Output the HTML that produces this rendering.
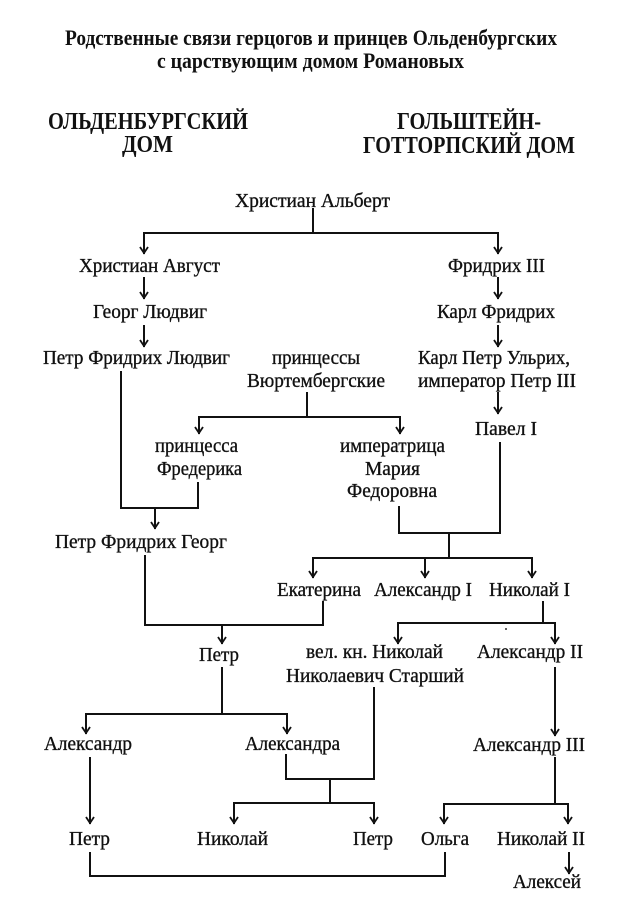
<!DOCTYPE html>
<html>
<head>
<meta charset="utf-8">
<style>
  html, body { margin: 0; padding: 0; background: #fff; }
  svg { display: block; }
  text { font-family: "Liberation Serif", "DejaVu Serif", serif; fill: #111; }
  .t { font-size: 20px; stroke: #111; stroke-width: 0.35px; }
  .b { font-weight: bold; }
</style>
</head>
<body>
<svg width="627" height="920" viewBox="0 0 627 920" xmlns="http://www.w3.org/2000/svg">
  <rect width="627" height="920" fill="#fff"/>

  <!-- Titles -->
  <text class="b" x="65" y="45" font-size="22" textLength="492" lengthAdjust="spacingAndGlyphs">Родственные связи герцогов и принцев Ольденбургских</text>
  <text class="b" x="157" y="68" font-size="22" textLength="307" lengthAdjust="spacingAndGlyphs">с царствующим домом Романовых</text>

  <text class="b" x="48" y="129" font-size="24" textLength="200" lengthAdjust="spacingAndGlyphs">ОЛЬДЕНБУРГСКИЙ</text>
  <text class="b" x="122" y="152" font-size="24" textLength="51" lengthAdjust="spacingAndGlyphs">ДОМ</text>
  <text class="b" x="397" y="129" font-size="24" textLength="144" lengthAdjust="spacingAndGlyphs">ГОЛЬШТЕЙН-</text>
  <text class="b" x="363" y="153" font-size="24" textLength="212" lengthAdjust="spacingAndGlyphs">ГОТТОРПСКИЙ ДОМ</text>

  <!-- Names -->
  <text class="t" x="235" y="207" textLength="155" lengthAdjust="spacingAndGlyphs">Христиан Альберт</text>
  <text class="t" x="79" y="272" textLength="141" lengthAdjust="spacingAndGlyphs">Христиан Август</text>
  <text class="t" x="93" y="318" textLength="114" lengthAdjust="spacingAndGlyphs">Георг Людвиг</text>
  <text class="t" x="43" y="364" textLength="187" lengthAdjust="spacingAndGlyphs">Петр Фридрих Людвиг</text>
  <text class="t" x="272" y="364" textLength="88" lengthAdjust="spacingAndGlyphs">принцессы</text>
  <text class="t" x="247" y="387" textLength="138" lengthAdjust="spacingAndGlyphs">Вюртембергские</text>
  <text class="t" x="448" y="272" textLength="97" lengthAdjust="spacingAndGlyphs">Фридрих III</text>
  <text class="t" x="437" y="318" textLength="118" lengthAdjust="spacingAndGlyphs">Карл Фридрих</text>
  <text class="t" x="418" y="364" textLength="152" lengthAdjust="spacingAndGlyphs">Карл Петр Ульрих,</text>
  <text class="t" x="418" y="387" textLength="158" lengthAdjust="spacingAndGlyphs">император Петр III</text>
  <text class="t" x="475" y="435" textLength="62" lengthAdjust="spacingAndGlyphs">Павел I</text>
  <text class="t" x="155" y="452" textLength="83" lengthAdjust="spacingAndGlyphs">принцесса</text>
  <text class="t" x="157" y="475" textLength="85" lengthAdjust="spacingAndGlyphs">Фредерика</text>
  <text class="t" x="340" y="452" textLength="105" lengthAdjust="spacingAndGlyphs">императрица</text>
  <text class="t" x="365" y="475" textLength="55" lengthAdjust="spacingAndGlyphs">Мария</text>
  <text class="t" x="347" y="497" textLength="90" lengthAdjust="spacingAndGlyphs">Федоровна</text>
  <text class="t" x="55" y="548" textLength="172" lengthAdjust="spacingAndGlyphs">Петр Фридрих Георг</text>
  <text class="t" x="277" y="596" textLength="84" lengthAdjust="spacingAndGlyphs">Екатерина</text>
  <text class="t" x="374" y="596" textLength="98" lengthAdjust="spacingAndGlyphs">Александр I</text>
  <text class="t" x="489" y="596" textLength="81" lengthAdjust="spacingAndGlyphs">Николай I</text>
  <text class="t" x="199" y="661" textLength="40" lengthAdjust="spacingAndGlyphs">Петр</text>
  <text class="t" x="306" y="658" textLength="137" lengthAdjust="spacingAndGlyphs">вел. кн. Николай</text>
  <text class="t" x="286" y="682" textLength="178" lengthAdjust="spacingAndGlyphs">Николаевич Старший</text>
  <text class="t" x="477" y="658" textLength="106" lengthAdjust="spacingAndGlyphs">Александр II</text>
  <text class="t" x="44" y="750" textLength="88" lengthAdjust="spacingAndGlyphs">Александр</text>
  <text class="t" x="245" y="750" textLength="95" lengthAdjust="spacingAndGlyphs">Александра</text>
  <text class="t" x="473" y="751" textLength="112" lengthAdjust="spacingAndGlyphs">Александр III</text>
  <text class="t" x="69" y="845" textLength="41" lengthAdjust="spacingAndGlyphs">Петр</text>
  <text class="t" x="197" y="845" textLength="71" lengthAdjust="spacingAndGlyphs">Николай</text>
  <text class="t" x="353" y="845" textLength="40" lengthAdjust="spacingAndGlyphs">Петр</text>
  <text class="t" x="421" y="845" textLength="48" lengthAdjust="spacingAndGlyphs">Ольга</text>
  <text class="t" x="497" y="845" textLength="88" lengthAdjust="spacingAndGlyphs">Николай II</text>
  <text class="t" x="513" y="888" textLength="68" lengthAdjust="spacingAndGlyphs">Алексей</text>

  <!-- Connectors -->
  <g stroke="#111" stroke-width="2" fill="none" stroke-linecap="square">
    <line x1="313" y1="209" x2="313" y2="233"/>
    <line x1="144" y1="233" x2="498" y2="233"/>
    <line x1="144" y1="233" x2="144" y2="253"/>
    <line x1="498" y1="233" x2="498" y2="253"/>

    <line x1="144" y1="278" x2="144" y2="298"/>
    <line x1="144" y1="326" x2="144" y2="346"/>

    <line x1="498" y1="278" x2="498" y2="298"/>
    <line x1="498" y1="326" x2="498" y2="346"/>
    <line x1="498" y1="393" x2="498" y2="413"/>

    <line x1="121" y1="372" x2="121" y2="508"/>

    <line x1="307" y1="393" x2="307" y2="417"/>
    <line x1="199" y1="417" x2="400" y2="417"/>
    <line x1="199" y1="417" x2="199" y2="433"/>
    <line x1="400" y1="417" x2="400" y2="433"/>

    <line x1="198" y1="483" x2="198" y2="508"/>
    <line x1="121" y1="508" x2="198" y2="508"/>
    <line x1="155" y1="508" x2="155" y2="528"/>

    <line x1="145" y1="556" x2="145" y2="625"/>
    <line x1="145" y1="625" x2="323" y2="625"/>
    <line x1="323" y1="602" x2="323" y2="625"/>
    <line x1="222" y1="625" x2="222" y2="643"/>

    <line x1="222" y1="668" x2="222" y2="714"/>
    <line x1="86" y1="714" x2="287" y2="714"/>
    <line x1="86" y1="714" x2="86" y2="733"/>
    <line x1="287" y1="714" x2="287" y2="733"/>

    <line x1="399" y1="507" x2="399" y2="533"/>
    <line x1="500" y1="443" x2="500" y2="533"/>
    <line x1="399" y1="533" x2="500" y2="533"/>
    <line x1="449" y1="533" x2="449" y2="558"/>
    <line x1="313" y1="558" x2="532" y2="558"/>
    <line x1="313" y1="558" x2="313" y2="577"/>
    <line x1="425" y1="558" x2="425" y2="577"/>
    <line x1="532" y1="558" x2="532" y2="577"/>

    <line x1="543" y1="602" x2="543" y2="623"/>
    <line x1="398" y1="623" x2="555" y2="623"/>
    <line x1="398" y1="623" x2="398" y2="643"/>
    <line x1="555" y1="623" x2="555" y2="643"/>

    <line x1="555" y1="668" x2="555" y2="735"/>

    <line x1="90" y1="758" x2="90" y2="823"/>

    <line x1="374" y1="688" x2="374" y2="779"/>
    <line x1="286" y1="755" x2="286" y2="779"/>
    <line x1="286" y1="779" x2="374" y2="779"/>
    <line x1="330" y1="779" x2="330" y2="803"/>
    <line x1="234" y1="803" x2="374" y2="803"/>
    <line x1="234" y1="803" x2="234" y2="823"/>
    <line x1="374" y1="803" x2="374" y2="823"/>

    <line x1="555" y1="758" x2="555" y2="804"/>
    <line x1="444" y1="804" x2="568" y2="804"/>
    <line x1="444" y1="804" x2="444" y2="823"/>
    <line x1="568" y1="804" x2="568" y2="823"/>

    <line x1="90" y1="853" x2="90" y2="876"/>
    <line x1="90" y1="876" x2="445" y2="876"/>
    <line x1="445" y1="853" x2="445" y2="876"/>

    <line x1="569" y1="853" x2="569" y2="873"/>
  </g>

  <!-- Arrowheads -->
  <g stroke="#111" stroke-width="1.8" fill="none" stroke-linejoin="miter" stroke-linecap="butt">
    <path d="M140 247 L144 253 L148 247"/>
    <path d="M494 247 L498 253 L502 247"/>
    <path d="M140 292 L144 298 L148 292"/>
    <path d="M140 340 L144 346 L148 340"/>
    <path d="M494 292 L498 298 L502 292"/>
    <path d="M494 340 L498 346 L502 340"/>
    <path d="M494 407 L498 413 L502 407"/>
    <path d="M195 427 L199 433 L203 427"/>
    <path d="M396 427 L400 433 L404 427"/>
    <path d="M151 522 L155 528 L159 522"/>
    <path d="M218 637 L222 643 L226 637"/>
    <path d="M82 727 L86 733 L90 727"/>
    <path d="M283 727 L287 733 L291 727"/>
    <path d="M309 571 L313 577 L317 571"/>
    <path d="M421 571 L425 577 L429 571"/>
    <path d="M528 571 L532 577 L536 571"/>
    <path d="M394 637 L398 643 L402 637"/>
    <path d="M551 637 L555 643 L559 637"/>
    <path d="M551 729 L555 735 L559 729"/>
    <path d="M86 817 L90 823 L94 817"/>
    <path d="M230 817 L234 823 L238 817"/>
    <path d="M370 817 L374 823 L378 817"/>
    <path d="M440 817 L444 823 L448 817"/>
    <path d="M564 817 L568 823 L572 817"/>
    <path d="M565 867 L569 873 L573 867"/>
  </g>

  <circle cx="506" cy="629" r="1" fill="#333"/>
</svg>
</body>
</html>
